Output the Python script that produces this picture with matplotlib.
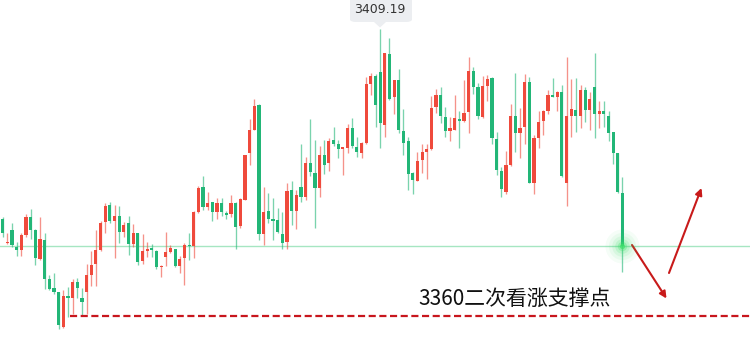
import matplotlib
matplotlib.use('Agg')
import matplotlib.pyplot as plt
from matplotlib.patches import FancyBboxPatch, Polygon

# ---- data (price candles) ----
opens = [3376.6, 3372.5, 3374.7, 3371.9, 3371.4, 3374.0, 3377.0, 3374.8, 3369.8, 3373.1,
         3366.3, 3364.8, 3364.1, 3358.1, 3363.4, 3363.2, 3365.8, 3363.1, 3364.1, 3367.1,
         3369.0, 3371.4, 3376.1, 3379.1, 3376.4, 3377.2, 3374.5, 3375.9, 3372.4, 3374.3,
         3369.5, 3371.2, 3371.5, 3371.2, 3368.4, 3370.2, 3371.0, 3371.5, 3368.6, 3370.0,
         3372.2, 3372.0, 3377.8, 3382.1, 3378.7, 3379.5, 3377.9, 3379.4, 3377.6, 3377.6,
         3379.4, 3375.5, 3380.0, 3387.9, 3392.0, 3396.2, 3374.1, 3378.1, 3376.6, 3376.5,
         3374.1, 3372.8, 3381.6, 3378.1, 3382.2, 3380.5, 3386.2, 3384.6, 3381.9, 3387.6,
         3386.3, 3390.2, 3389.5, 3388.7, 3388.8, 3392.2, 3389.0, 3387.9, 3389.7, 3399.8,
         3401.1, 3401.9, 3392.8, 3404.9, 3397.5, 3400.5, 3391.8, 3390.0, 3384.5, 3383.2,
         3386.7, 3388.2, 3388.6, 3395.9, 3397.9, 3394.2, 3391.8, 3392.0, 3393.8, 3393.5,
         3395.0, 3402.0, 3399.3, 3394.1, 3399.5, 3400.9, 3390.3, 3384.9, 3381.3, 3385.9,
         3394.3, 3391.4, 3392.4, 3400.2, 3382.9, 3390.5, 3393.5, 3395.2, 3397.9, 3397.6,
         3398.5, 3382.8, 3394.3, 3395.4, 3394.3, 3398.7, 3395.4, 3399.3, 3394.7, 3395.2,
         3394.3, 3391.5, 3387.9, 3381.2]
highs = [3377.0, 3374.3, 3375.9, 3372.8, 3374.3, 3377.6, 3378.3, 3374.9, 3377.0, 3374.3,
         3367.1, 3367.4, 3364.2, 3364.5, 3365.0, 3366.3, 3366.6, 3364.8, 3369.0, 3371.1,
         3374.8, 3376.4, 3379.4, 3379.6, 3379.1, 3378.9, 3376.2, 3377.2, 3375.8, 3374.3,
         3374.1, 3372.7, 3372.4, 3371.4, 3368.8, 3374.4, 3372.2, 3371.6, 3370.3, 3372.6,
         3374.3, 3378.0, 3382.3, 3384.0, 3381.3, 3379.6, 3380.3, 3380.3, 3378.1, 3380.8,
         3379.5, 3380.2, 3387.6, 3393.8, 3397.2, 3396.4, 3382.2, 3381.1, 3380.3, 3378.5,
         3377.9, 3382.9, 3383.1, 3381.6, 3389.5, 3387.3, 3393.8, 3390.2, 3389.1, 3390.2,
         3390.5, 3392.5, 3390.2, 3388.9, 3393.0, 3393.9, 3390.8, 3389.9, 3401.0, 3401.7,
         3401.6, 3409.19, 3405.2, 3407.7, 3400.5, 3402.3, 3395.5, 3390.8, 3384.8, 3388.2,
         3389.6, 3389.5, 3397.8, 3399.0, 3399.3, 3395.9, 3394.2, 3397.9, 3395.1, 3400.5,
         3404.4, 3402.7, 3399.9, 3401.1, 3401.3, 3401.0, 3391.6, 3385.6, 3388.3, 3396.3,
         3401.7, 3395.7, 3401.6, 3401.0, 3391.1, 3395.2, 3395.4, 3398.7, 3400.8, 3398.6,
         3399.6, 3404.4, 3400.6, 3400.8, 3399.6, 3399.3, 3398.5, 3405.2, 3396.9, 3396.9,
         3395.1, 3391.6, 3388.0, 3383.8]
lows = [3373.6, 3372.4, 3371.9, 3370.4, 3370.4, 3373.6, 3373.2, 3368.8, 3369.6, 3364.6,
        3364.5, 3363.8, 3357.8, 3357.9, 3359.9, 3360.4, 3363.1, 3360.2, 3360.4, 3365.1,
        3365.1, 3371.1, 3374.2, 3376.0, 3369.9, 3372.6, 3373.6, 3370.5, 3371.9, 3368.8,
        3369.0, 3370.2, 3370.1, 3368.1, 3366.7, 3368.6, 3370.8, 3368.5, 3367.4, 3365.4,
        3369.6, 3370.0, 3377.7, 3378.2, 3378.2, 3376.4, 3376.7, 3377.2, 3376.6, 3377.0,
        3371.5, 3375.1, 3379.9, 3385.9, 3391.9, 3373.1, 3372.2, 3375.9, 3373.1, 3374.2,
        3371.5, 3371.6, 3375.6, 3375.0, 3379.6, 3379.9, 3384.0, 3375.2, 3380.4, 3384.4,
        3384.9, 3389.2, 3387.1, 3384.2, 3387.9, 3388.8, 3387.3, 3387.2, 3389.6, 3397.9,
        3392.4, 3388.9, 3390.8, 3397.1, 3394.7, 3391.4, 3387.6, 3381.6, 3380.9, 3383.1,
        3384.5, 3383.5, 3388.5, 3394.9, 3393.1, 3390.7, 3390.1, 3391.9, 3388.8, 3393.3,
        3391.4, 3398.1, 3393.8, 3393.9, 3396.9, 3389.5, 3384.2, 3380.4, 3381.0, 3385.8,
        3388.2, 3387.2, 3389.6, 3382.9, 3380.9, 3388.8, 3391.1, 3394.7, 3397.5, 3395.2,
        3383.9, 3378.9, 3390.8, 3391.5, 3392.2, 3393.3, 3392.0, 3390.5, 3392.2, 3392.4,
        3390.1, 3386.1, 3381.2, 3367.5]
closes = [3374.3, 3372.8, 3372.2, 3371.4, 3374.0, 3377.0, 3374.8, 3369.9, 3373.2, 3366.3,
          3364.7, 3364.2, 3358.5, 3363.4, 3363.1, 3365.9, 3364.8, 3362.5, 3367.1, 3368.8,
          3371.4, 3376.0, 3378.9, 3376.4, 3377.2, 3374.5, 3375.6, 3372.4, 3374.2, 3369.3,
          3371.2, 3371.5, 3371.4, 3368.4, 3368.6, 3371.0, 3371.7, 3368.6, 3369.8, 3372.2,
          3372.0, 3377.9, 3382.0, 3378.7, 3379.4, 3377.9, 3379.4, 3377.9, 3377.4, 3379.4,
          3375.3, 3380.1, 3387.6, 3392.0, 3396.0, 3374.1, 3377.8, 3376.7, 3376.4, 3374.4,
          3372.6, 3381.5, 3378.1, 3380.8, 3380.5, 3386.3, 3384.8, 3381.9, 3387.6, 3385.9,
          3390.1, 3389.5, 3388.7, 3388.9, 3392.2, 3389.1, 3388.1, 3389.7, 3399.8, 3401.1,
          3396.2, 3393.2, 3405.1, 3397.2, 3400.5, 3391.9, 3389.7, 3384.4, 3383.4, 3386.6,
          3388.2, 3388.6, 3395.7, 3397.9, 3394.4, 3391.8, 3392.2, 3393.9, 3393.5, 3394.8,
          3402.0, 3399.3, 3394.4, 3399.5, 3400.6, 3390.5, 3385.1, 3381.8, 3385.9, 3394.3,
          3391.4, 3392.2, 3400.2, 3382.9, 3390.5, 3393.3, 3395.2, 3397.9, 3397.6, 3398.5,
          3384.0, 3394.3, 3395.5, 3394.3, 3398.7, 3395.4, 3397.2, 3394.7, 3395.2, 3394.7,
          3391.4, 3387.9, 3381.3, 3372.0]

high_label = "3409.19"
support_price = 3360.0
support_text = "3360二次看涨支撑点"

# ---- style ----
W, H = 750, 337
UP = '#ef4a3c'
DOWN = '#22b677'
fig = plt.figure(figsize=(W / 100, H / 100), dpi=100)
ax = fig.add_axes([0, 0, 1, 1])
ax.axis('off')

step = 4.66       # pixels per candle
x0_px = 2.7       # pixel position of first candle
ax.set_xlim(-x0_px / step, (W - x0_px) / step)
ax.set_ylim(3356.44, 3414.2)


def fpx(px, py):
    return (px / W, 1 - py / H)


n = len(opens)
xs = list(range(n))
for i in xs:
    o, h, l, c = opens[i], highs[i], lows[i], closes[i]
    col = UP if c >= o else DOWN
    ax.vlines(i, l, h, colors=col, linewidth=0.95, alpha=0.6, zorder=2)
    bottom = min(o, c)
    height = max(abs(c - o), 0.22)
    ax.bar(i, height, bottom=bottom, width=0.68, color=col, linewidth=0, zorder=3)

# current price line
last = closes[-1]
ax.axhline(last, color='#a6e6c2', linewidth=1.0, zorder=1)

# glow at last price
for s, a in [(600, 0.05), (380, 0.07), (220, 0.1), (110, 0.16), (45, 0.3), (14, 0.7)]:
    ax.scatter([n - 1], [last], s=s, color='#3ee06a', alpha=a, linewidths=0, zorder=4)

# support dashed line
ax.hlines(support_price, 14.35, ax.get_xlim()[1], colors='#c8161d',
          linestyles=(0, (3.2, 1.6)), linewidth=1.6, zorder=3)

# support text
fig.text(*fpx(418, 305), support_text, fontsize=15, color='#111111',
         family=['Noto Sans CJK SC', 'DejaVu Sans'], va='baseline', ha='left')

# arrows
arrow_kw = dict(arrowstyle='-|>', color='#c81a1a', lw=1.5, mutation_scale=10,
                shrinkA=0, shrinkB=0)
ax.annotate('', xy=fpx(666.5, 298.5), xytext=fpx(632, 245),
            xycoords='figure fraction', textcoords='figure fraction', arrowprops=arrow_kw)
ax.annotate('', xy=fpx(701.5, 188), xytext=fpx(669, 273),
            xycoords='figure fraction', textcoords='figure fraction', arrowprops=arrow_kw)

# high label box
bx0, by0, bx1, by1 = 350, -4, 412, 22
box = FancyBboxPatch(fpx(bx0, by1), (bx1 - bx0) / W, (by1 - by0) / H,
                     boxstyle='round,pad=0,rounding_size=0.008', transform=fig.transFigure,
                     facecolor='#eceef1', edgecolor='none', zorder=5)
fig.patches.append(box)
tri = Polygon([fpx(374, 22), fpx(386, 22), fpx(380, 27.5)], closed=True,
              transform=fig.transFigure, facecolor='#eceef1', edgecolor='none')
fig.patches.append(tri)
fig.text(*fpx(380, 9.5), high_label, fontsize=9, color='#333333',
         ha='center', va='center', zorder=6)

fig.savefig('out.png', dpi=100)
